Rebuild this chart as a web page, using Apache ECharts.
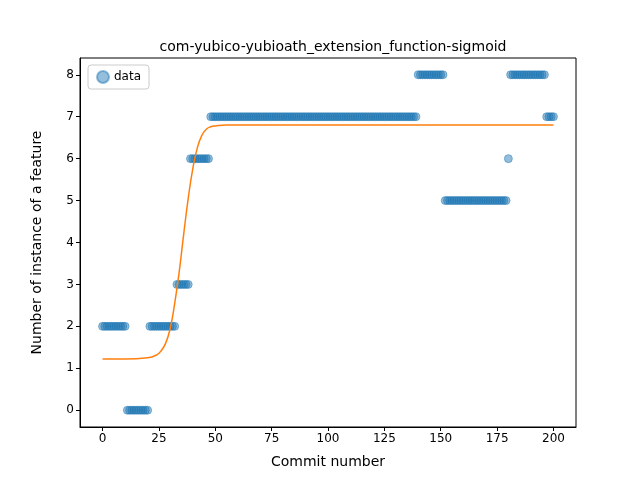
<!DOCTYPE html>
<html>
<head>
<meta charset="utf-8">
<script src="https://cdn.jsdelivr.net/npm/echarts@6/dist/echarts.min.js"></script>
<style>html,body{margin:0;padding:0;background:#fff}#main{width:640px;height:480px}</style>
</head>
<body>
<div id="main"></div>
<script>
// runs of [value, count] for commits 0..200
var dataRuns = [[2, 11], [0, 10], [2, 12], [3, 6], [6, 9], [7, 92], [8, 12], [5, 28], [6, 1], [8, 16], [7, 4]];
// fitted sigmoid
var fitX = [0, 10, 20, 24, 26, 28, 30, 32, 34, 36, 38, 40, 42, 44, 46, 48, 50, 55, 60, 100, 150, 200];
var fitY = [1.22, 1.22, 1.25, 1.32, 1.42, 1.6, 1.95, 2.55, 3.3, 4.2, 5.05, 5.75, 6.25, 6.55, 6.7, 6.76, 6.78, 6.8, 6.8, 6.8, 6.8, 6.8];
var xTicks = [0, 25, 50, 75, 100, 125, 150, 175, 200];
var yTicks = [0, 1, 2, 3, 4, 5, 6, 7, 8];

var points = [];
var x = 0;
dataRuns.forEach(function(r) {
	for (var i = 0; i < r[1]; i++) { points.push([x, r[0]]); x++; }
});
var fit = fitX.map(function(v, i) { return [v, fitY[i]]; });

var myChart = echarts.init(document.getElementById('main'));
var font = 'DejaVu Sans';
var option = {
	animation: false,
	textStyle: { fontFamily: font },
	title: {
		text: 'com-yubico-yubioath_extension_function-sigmoid',
		left: 328, top: 35, textAlign: 'center',
		textStyle: { fontSize: 14, fontWeight: 'normal', color: '#000', fontFamily: font }
	},
	legend: {
		left: 88, top: 65, orient: 'vertical',
		borderColor: '#ccc', borderWidth: 1, borderRadius: 3, padding: [5, 8],
		itemWidth: 12, itemHeight: 12,
		data: [{ name: 'data', icon: 'circle' }],
		textStyle: { fontSize: 12, color: '#000', fontFamily: font }
	},
	grid: { left: 80, right: 64, top: 58, bottom: 53, show: true, borderColor: '#000', borderWidth: 1 },
	xAxis: {
		type: 'value', min: -10, max: 210,
		name: 'Commit number', nameLocation: 'middle', nameGap: 28,
		nameTextStyle: { fontSize: 14, color: '#000', fontFamily: font },
		splitLine: { show: false },
		axisLine: { onZero: false, lineStyle: { color: '#000' } },
		axisTick: { show: true, customValues: xTicks, length: 4, lineStyle: { color: '#000' } },
		axisLabel: { customValues: xTicks, color: '#000', fontSize: 12, margin: 6 }
	},
	yAxis: {
		type: 'value', min: -0.4, max: 8.4,
		name: 'Number of instance of a feature', nameLocation: 'middle', nameGap: 36,
		nameTextStyle: { fontSize: 14, color: '#000', fontFamily: font },
		splitLine: { show: false },
		axisLine: { show: true, onZero: false, lineStyle: { color: '#000' } },
		axisTick: { show: true, customValues: yTicks, length: 4, lineStyle: { color: '#000' } },
		axisLabel: { customValues: yTicks, color: '#000', fontSize: 12, margin: 6 }
	},
	series: [{
		name: 'data', type: 'scatter', data: points, symbolSize: 8,
		itemStyle: { color: 'rgba(31,119,180,0.6)', borderColor: 'rgba(31,119,180,0.6)', borderWidth: 1 }
	}, {
		name: 'fit', type: 'line', data: fit, smooth: true, showSymbol: false,
		lineStyle: { color: '#ff7f0e', width: 1.5 }
	}]
};
myChart.setOption(option);
</script>
</body>
</html>
